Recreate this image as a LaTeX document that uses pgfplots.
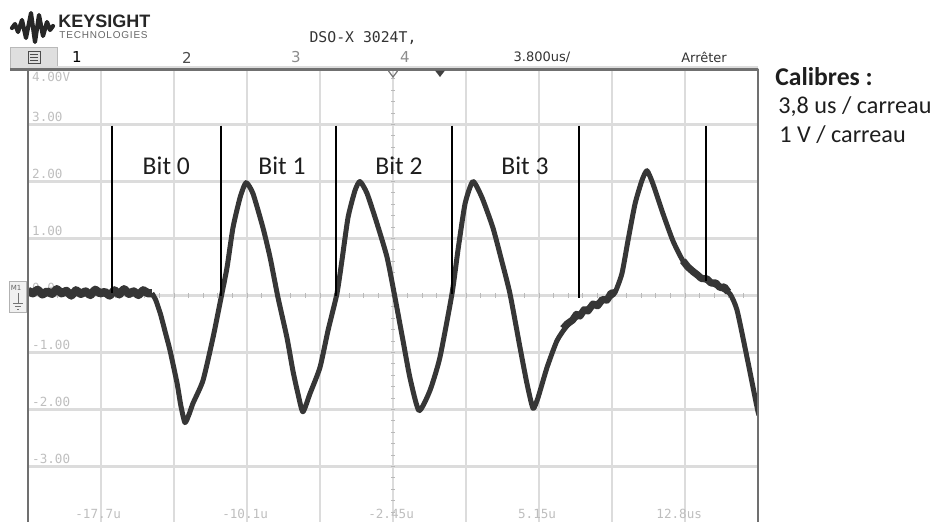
\documentclass[border=0pt]{standalone}
\usepackage{fontspec}
\setmainfont{Carlito}
\newfontfamily\scopefont{DejaVu Sans}
\newfontfamily\scopemono{DejaVu Sans Mono}
\newfontfamily\logofont{Liberation Sans}
\usepackage{pgfplots}
\pgfplotsset{compat=1.18}
\definecolor{trace}{HTML}{363636}
\definecolor{gridc}{HTML}{DCDCDC}
\definecolor{framec}{HTML}{707070}
\definecolor{lblc}{HTML}{BEBEBE}
\definecolor{txt}{HTML}{1E1E1E}

\begin{document}
\begin{tikzpicture}
\useasboundingbox (0,0) rectangle (470.5pt,-260.5pt);

% header (pixel coordinates)
\begin{scope}[x=0.5pt,y=-0.5pt]
  \draw[black!85, line width=2.1pt, line join=round, line cap=round]
    (12,28) -- (15,24) -- (18,32) -- (22,20) -- (26,38) -- (31,13) -- (35,42)
    -- (39,15) -- (43,36) -- (47,22) -- (50,30) -- (53,26);
  \node[anchor=west, inner sep=0, text=black!85,
        font=\logofont\bfseries\fontsize{9}{9}\selectfont] at (58,21.5) {KEYSIGHT};
  \node[anchor=west, inner sep=0, text=black!60,
        font=\logofont\fontsize{5}{5}\selectfont\addfontfeatures{LetterSpace=8}] at (59,35) {TECHNOLOGIES};
  \node[inner sep=0, text=black!80, font=\scopemono\fontsize{7.4}{8}\selectfont] at (363,38) {DSO-X 3024T,};
  % channel bar
  \draw[gray!55, fill=gray!25] (10,47) rectangle (57,68);
  \draw[black!70, line width=0.5pt] (28,51) rectangle (40,63);
  \draw[black!70, line width=0.4pt] (30,54) -- (38,54) (30,57) -- (38,57) (30,60) -- (38,60);
  \begin{scope}[every node/.style={inner sep=0, font=\scopefont\fontsize{7.5}{8}\selectfont}]
    \node[text=black] at (77,57.5) {1};
    \node[text=black!70] at (187,57.5) {2};
    \node[text=black!45] at (296,57.5) {3};
    \node[text=black!45] at (405,57.5) {4};
  \end{scope}
  \node[inner sep=0, text=black!80, font=\scopefont\fontsize{6.5}{7}\selectfont] at (542,57.5) {3.800us/};
  \node[inner sep=0, text=black!80, font=\scopefont\fontsize{6.5}{7}\selectfont] at (704,57.5) {Arrêter};
  % right-hand notes
  \node[anchor=base west, inner sep=0, text=txt, font=\bfseries\fontsize{12.8}{15}\selectfont] at (775,85) {Calibres :};
  \node[anchor=base west, inner sep=0, text=txt, font=\fontsize{12.1}{15}\selectfont] at (778,113) {3,8 us / carreau};
  \node[anchor=base west, inner sep=0, text=txt, font=\fontsize{12.1}{15}\selectfont] at (779,142) {1 V / carreau};
\end{scope}

\begin{axis}[
  at={(14pt,-33.75pt)}, anchor=north west,
  scale only axis, width=365pt, height=228pt,
  xmin=-21.45, xmax=16.55, ymin=-4, ymax=4,
  xtick={-21.45,-17.65,-13.85,-10.05,-6.25,-2.45,1.35,5.15,8.95,12.75,16.55},
  ytick={-4,-3,-2,-1,0,1,2,3,4},
  xticklabel=\empty, yticklabel=\empty,
  tick style={draw=none},
  grid=major, grid style={line width=1.1pt, color=gridc},
  axis line style={draw=none},
  clip=true,
]
% small graduations on the centre lines
\pgfplotsinvokeforeach{1,...,49}{
  \draw[gray!55, line width=0.5pt] (axis cs:{-21.45+0.76*#1},-0.045) -- (axis cs:{-21.45+0.76*#1},0.045);
}
\pgfplotsinvokeforeach{-19,...,19}{
  \draw[gray!55, line width=0.5pt] (axis cs:-2.53,{0.2*#1}) -- (axis cs:-2.37,{0.2*#1});
}
% screen labels
\begin{scope}[every node/.style={inner sep=0, text=lblc, font=\scopemono\fontsize{6.3}{7}\selectfont}]
  \node[anchor=north west] at (axis cs:-21.25,3.93) {4.00V};
  \node[anchor=south west] at (axis cs:-21.25,3.04) {3.00};
  \node[anchor=south west] at (axis cs:-21.25,2.04) {2.00};
  \node[anchor=south west] at (axis cs:-21.25,1.04) {1.00};
  \node[anchor=south west] at (axis cs:-21.25,0.04) {0.0};
  \node[anchor=south west] at (axis cs:-21.25,-0.96) {-1.00};
  \node[anchor=south west] at (axis cs:-21.25,-1.96) {-2.00};
  \node[anchor=south west] at (axis cs:-21.25,-2.96) {-3.00};
  \node at (axis cs:-17.80,-3.83) {-17.7u};
  \node at (axis cs:-10.15,-3.83) {-10.1u};
  \node at (axis cs:-2.55,-3.83) {-2.45u};
  \node at (axis cs:5.05,-3.83) {5.15u};
  \node at (axis cs:12.45,-3.83) {12.8us};
\end{scope}
% measured signal (us, V): noisy baseline before the frame
\addplot[trace, line width=4.2pt, line join=round] coordinates {
  (-21.45,0.08) (-21.2,0.04) (-20.95,0.10) (-20.7,0.02) (-20.45,0.07) (-20.2,0.03)
  (-19.95,0.11) (-19.7,0.04) (-19.45,0.08) (-19.2,0.00) (-18.95,0.09) (-18.7,0.03)
  (-18.45,0.07) (-18.2,0.01) (-17.95,0.10) (-17.7,0.04) (-17.45,0.06) (-17.2,0.00)
  (-16.95,0.09) (-16.7,0.02) (-16.45,0.11) (-16.2,0.03) (-15.95,0.07) (-15.7,0.01)
  (-15.45,0.09) (-15.2,0.04) (-15.0,0.04)
};
% measured signal: main waveform
\addplot[trace, line width=2.5pt, line join=round, smooth, tension=0.35] coordinates {
  (-15.0,0.04) (-14.80,-0.08) (-14.55,-0.33) (-14.30,-0.65) (-14.06,-0.96) (-13.69,-1.54)
  (-13.50,-1.92) (-13.28,-2.23) (-13.05,-2.07) (-12.86,-1.89) (-12.34,-1.49)
  (-11.82,-0.74) (-11.46,-0.14) (-11.09,0.49) (-10.78,1.19) (-10.41,1.72)
  (-10.10,1.98) (-9.74,1.79) (-9.22,1.19) (-8.85,0.67) (-8.44,-0.03)
  (-7.97,-0.74) (-7.66,-1.32) (-7.40,-1.72) (-7.14,-2.04) (-6.77,-1.72)
  (-6.25,-1.26) (-5.83,-0.61) (-5.37,0.03) (-5.11,0.61) (-4.79,1.37)
  (-4.43,1.84) (-4.17,2.00) (-3.80,1.79) (-3.28,1.26) (-2.76,0.67)
  (-2.35,-0.03) (-1.93,-0.79) (-1.57,-1.44) (-1.10,-2.02) (-0.53,-1.67)
  (-0.01,-1.09) (0.62,0.03) (0.93,0.79) (1.30,1.61) (1.71,2.00) (2.18,1.72)
  (2.75,1.19) (3.20,0.62) (3.64,0.03) (4.16,-0.91) (4.52,-1.54) (4.84,-1.98)
  (5.10,-1.79) (5.57,-1.26) (6.09,-0.79) (6.61,-0.53) (7.28,-0.33) (7.96,-0.17)
  (8.69,-0.06) (9.10,0.05) (9.47,0.39) (9.78,0.96) (10.15,1.61)
  (10.51,2.02) (10.77,2.19) (11.08,1.96) (11.60,1.44) (12.12,0.96) (12.64,0.61)
  (13.17,0.40) (13.90,0.26) (14.57,0.14) (15.09,0.03) (15.46,-0.26) (15.98,-1.09)
  (16.50,-1.96) (16.60,-2.10)
};
% measured signal: noisier stretches
\addplot[trace, line width=3.6pt, line join=round] coordinates {
  (6.40,-0.58) (6.61,-0.50) (6.90,-0.43) (7.10,-0.33) (7.28,-0.36) (7.50,-0.25)
  (7.70,-0.27) (7.96,-0.15) (8.20,-0.18) (8.45,-0.07) (8.69,-0.08) (8.90,0.04) (9.10,0.05)
};
\addplot[trace, line width=3.6pt, line join=round] coordinates {
  (12.64,0.61) (12.90,0.50) (13.17,0.42) (13.40,0.36) (13.60,0.30) (13.90,0.29)
  (14.10,0.22) (14.35,0.22) (14.57,0.14) (14.80,0.15) (15.00,0.06)
};
% bit boundaries
\addplot[black, line width=0.8pt] coordinates {(-17.08,2.98) (-17.08,0.05)};
\addplot[black, line width=0.8pt] coordinates {(-11.40,2.98) (-11.40,0.00)};
\addplot[black, line width=0.8pt] coordinates {(-5.42,2.98) (-5.42,0.00)};
\addplot[black, line width=0.8pt] coordinates {(0.62,2.98) (0.62,0.03)};
\addplot[black, line width=0.8pt] coordinates {(7.23,2.98) (7.23,-0.05)};
\addplot[black, line width=0.8pt] coordinates {(13.84,2.98) (13.84,0.25)};
\begin{scope}[every node/.style={inner sep=0, text=txt, font=\fontsize{12.8}{15}\selectfont}]
  \node at (axis cs:-14.25,2.28) {Bit 0};
  \node at (axis cs:-8.23,2.28) {Bit 1};
  \node at (axis cs:-2.14,2.28) {Bit 2};
  \node at (axis cs:4.42,2.28) {Bit 3};
\end{scope}
\end{axis}

% screen frame and markers (pixel coordinates)
\begin{scope}[x=0.5pt,y=-0.5pt]
  \draw[framec, line width=1.2pt] (28,69) -- (28,522);
  \draw[framec, line width=1.2pt] (758,69) -- (758,522);
  \draw[framec, line width=1.5pt] (10,69.5) -- (758,69.5);
  \draw[black!55, line width=0.6pt] (388.5,71) -- (393,77) -- (397.5,71);
  \fill[black!75] (435,70.5) -- (445,70.5) -- (440,77) -- cycle;
  \draw[gray!60, fill=gray!12] (9,281) rectangle (26,312);
  \node[inner sep=0, text=black!60, font=\scopefont\fontsize{3.5}{4}\selectfont] at (16,288) {M1};
  \draw[black!55, line width=0.4pt] (18,293) -- (18,303) (13,303) -- (23,303) (15,306) -- (21,306) (17,309) -- (19,309);
\end{scope}
\end{tikzpicture}
\end{document}
